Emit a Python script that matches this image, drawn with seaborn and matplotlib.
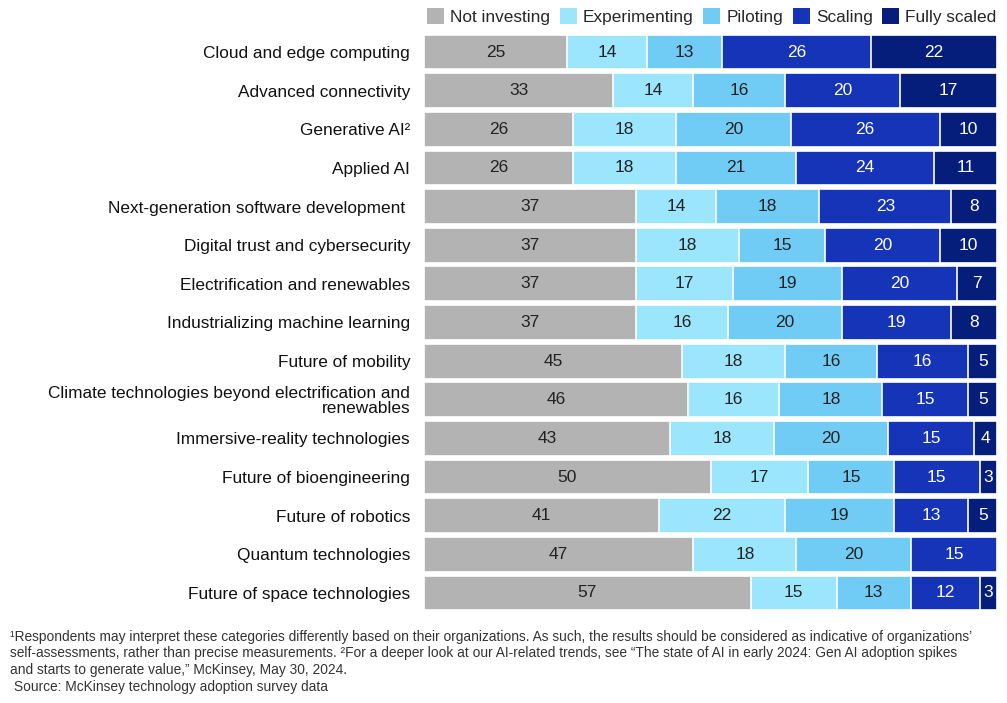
import matplotlib
matplotlib.use("Agg")
import matplotlib.pyplot as plt
import matplotlib.patches as mpatches
import seaborn as sns
import pandas as pd
import numpy as np

categories = [
    "Cloud and edge computing",
    "Advanced connectivity",
    "Generative AI\u00b2",
    "Applied AI",
    "Next-generation software development ",
    "Digital trust and cybersecurity",
    "Electrification and renewables",
    "Industrializing machine learning",
    "Future of mobility",
    "Climate technologies beyond electrification and\nrenewables",
    "Immersive-reality technologies",
    "Future of bioengineering",
    "Future of robotics",
    "Quantum technologies",
    "Future of space technologies",
]
not_investing = [25, 33, 26, 26, 37, 37, 37, 37, 45, 46, 43, 50, 41, 47, 57]
experimenting = [14, 14, 18, 18, 14, 18, 17, 16, 18, 16, 18, 17, 22, 18, 15]
piloting = [13, 16, 20, 21, 18, 15, 19, 20, 16, 18, 20, 15, 19, 20, 13]
scaling = [26, 20, 26, 24, 23, 20, 20, 19, 16, 15, 15, 15, 13, 15, 12]
fully_scaled = [22, 17, 10, 11, 8, 10, 7, 8, 5, 5, 4, 3, 5, 0.4, 3]

series_names = ["Not investing", "Experimenting", "Piloting", "Scaling", "Fully scaled"]
series_vals = [not_investing, experimenting, piloting, scaling, fully_scaled]
colors = ["#B3B3B3", "#9BE5FD", "#70CBF5", "#1534B8", "#061E7B"]
text_colors = ["#222222", "#222222", "#222222", "white", "white"]

FONT = ["Liberation Sans", "DejaVu Sans"]
sns.set_style("white")
plt.rcParams["font.family"] = FONT

fig = plt.figure(figsize=(10.07, 7.03), dpi=100)
ax = fig.add_axes([424 / 1007, 1 - 612.3 / 703, (997 - 424) / 1007, (612.3 - 32.7) / 703])

cum = np.zeros(len(categories))
cums = []
for vals in series_vals:
    cum = cum + np.array(vals, dtype=float)
    cums.append(cum.copy())

# draw from the total down so that shorter cumulative bars sit on top
for i in range(len(series_vals) - 1, -1, -1):
    d = pd.DataFrame({"category": categories, "value": cums[i]})
    sns.barplot(data=d, y="category", x="value", orient="h", color=colors[i],
                width=0.9, edgecolor="white", linewidth=1.2, ax=ax,
                saturation=1, errorbar=None)

# value labels
for i, vals in enumerate(series_vals):
    for j, v in enumerate(vals):
        if v < 1:
            continue
        left = cums[i][j] - v
        ax.text(left + v / 2, j, f"{v:g}", ha="center", va="center",
                fontsize=12.5, color=text_colors[i])

ax.set_xlim(0, 100)
ax.set_ylim(14.5, -0.5)
ax.set_xlabel("")
ax.set_ylabel("")
ax.set_xticks([])
for s in ax.spines.values():
    s.set_visible(False)
ax.tick_params(axis="y", length=0, pad=10, labelsize=12.4, labelcolor="#111111")
for lbl in ax.get_yticklabels():
    lbl.set_multialignment("right")
    lbl.set_linespacing(1.0)

handles = [mpatches.Patch(facecolor=c, edgecolor="none", label=n) for c, n in zip(colors, series_names)]
fig.legend(handles=handles, loc="upper right", bbox_to_anchor=(1.0, 1.003), ncol=5,
           frameon=False, fontsize=12.4, handlelength=1.0, handleheight=1.0,
           handletextpad=0.35, columnspacing=0.55, borderaxespad=0.2)

foot = ("\u00b9Respondents may interpret these categories differently based on their organizations. As such, the results should be considered as indicative of organizations\u2019\n"
        "self-assessments, rather than precise measurements. \u00b2For a deeper look at our AI-related trends, see \u201cThe state of AI in early 2024: Gen AI adoption spikes\n"
        "and starts to generate value,\u201d McKinsey, May 30, 2024.\n"
        " Source: McKinsey technology adoption survey data")
fig.text(10 / 1007, 1 - 629.5 / 703, foot, ha="left", va="top", fontsize=9.9,
         color="#333333", linespacing=1.25)

fig.savefig("out.png", dpi=100)
